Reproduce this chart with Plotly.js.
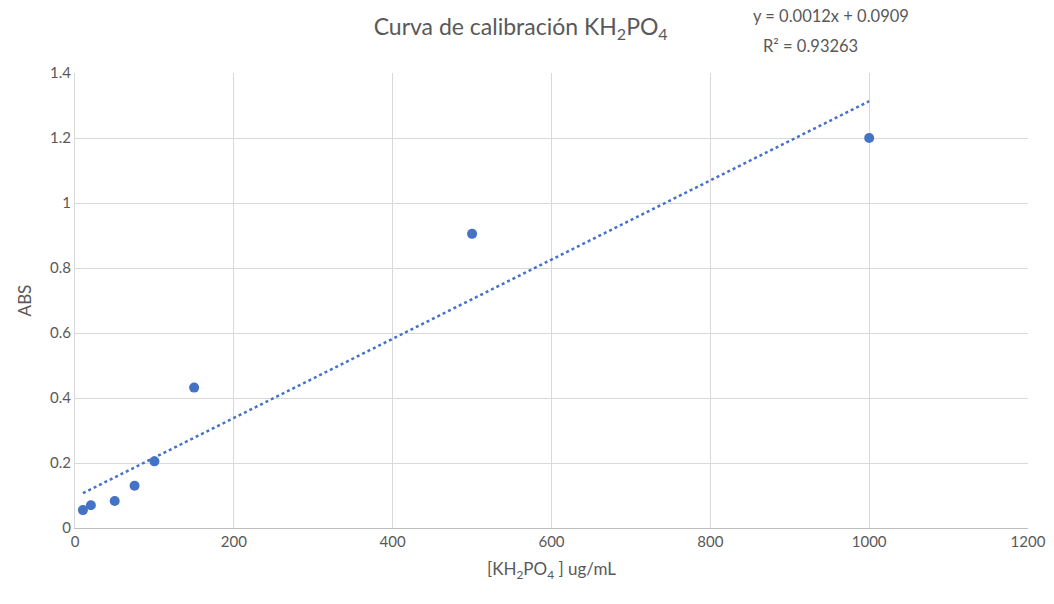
<!DOCTYPE html>
<html>
<head>
<meta charset="utf-8">
<script src="https://cdn.plot.ly/plotly-3.0.1.min.js"></script>
<style>html,body{margin:0;padding:0;background:#fff;}#chart{width:1054px;height:604px;}</style>
</head>
<body>
<div id="chart"></div>
<script>
// Data
const concentration = [10, 20, 50, 75, 100, 150, 500, 1000];
const absorbance = [0.055, 0.07, 0.083, 0.13, 0.205, 0.432, 0.905, 1.2];
const xTicks = [0, 200, 400, 600, 800, 1000, 1200];
const yTicks = [0, 0.2, 0.4, 0.6, 0.8, 1, 1.2, 1.4];
const equationText = "y = 0.0012x + 0.0909";
const r2Text = "R² = 0.93263";

// Least-squares linear trendline (as Excel does)
const n = concentration.length;
const mx = concentration.reduce((a, b) => a + b, 0) / n;
const my = absorbance.reduce((a, b) => a + b, 0) / n;
let sxy = 0, sxx = 0;
for (let i = 0; i < n; i++) {
  sxy += (concentration[i] - mx) * (absorbance[i] - my);
  sxx += (concentration[i] - mx) ** 2;
}
const slope = sxy / sxx;
const intercept = my - slope * mx;
const xMin = Math.min(...concentration), xMax = Math.max(...concentration);
const trendX = [xMin, xMax];
const trendY = trendX.map(x => slope * x + intercept);

const blue = "#4472C4";
const gray = "#595959";
const font = "Lato, 'Open Sans', sans-serif";

const traces = [
  {
    x: trendX, y: trendY, mode: "lines", type: "scatter",
    line: {color: blue, width: 2.5, dash: "dot"},
    hoverinfo: "skip", showlegend: false
  },
  {
    x: concentration, y: absorbance, mode: "markers", type: "scatter",
    marker: {color: blue, size: 10},
    showlegend: false
  }
];

const layout = {
  width: 1054, height: 604,
  margin: {l: 75, r: 26, t: 73, b: 76},
  paper_bgcolor: "#fff", plot_bgcolor: "#fff",
  font: {family: font, color: gray, size: 15},
  title: {
    text: "Curva de calibración KH<sub>2</sub>PO<sub>4</sub>",
    font: {family: font, size: 23, color: gray},
    x: 0.494, xanchor: "center", y: 0.955, yanchor: "middle"
  },
  xaxis: {
    range: [0, 1200], tickvals: xTicks, ticktext: xTicks.map(String),
    showgrid: true, gridcolor: "#d9d9d9", gridwidth: 1,
    showline: true, linecolor: "#bfbfbf", linewidth: 1,
    zeroline: false, ticks: "", ticklen: 0,
    tickfont: {family: font, size: 15, color: gray},
    title: {text: "[KH<sub>2</sub>PO<sub>4</sub> ] ug/mL", font: {family: font, size: 17, color: gray}, standoff: 14}
  },
  yaxis: {
    range: [0, 1.4], tickvals: yTicks, ticktext: yTicks.map(String),
    showgrid: true, gridcolor: "#d9d9d9", gridwidth: 1,
    showline: true, linecolor: "#d9d9d9", linewidth: 1,
    zeroline: false, ticks: "", ticklen: 0,
    tickfont: {family: font, size: 15, color: gray},
    title: {text: "ABS", font: {family: font, size: 17, color: gray}, standoff: 14}
  },
  annotations: [
    {text: equationText, xref: "paper", yref: "paper", x: 0.793, y: 1.126,
     xanchor: "center", yanchor: "middle", showarrow: false,
     font: {family: font, size: 16.5, color: gray}},
    {text: r2Text, xref: "paper", yref: "paper", x: 0.772, y: 1.06,
     xanchor: "center", yanchor: "middle", showarrow: false,
     font: {family: font, size: 16.5, color: gray}}
  ]
};

Plotly.newPlot("chart", traces, layout, {displayModeBar: false, staticPlot: true});
</script>
</body>
</html>
